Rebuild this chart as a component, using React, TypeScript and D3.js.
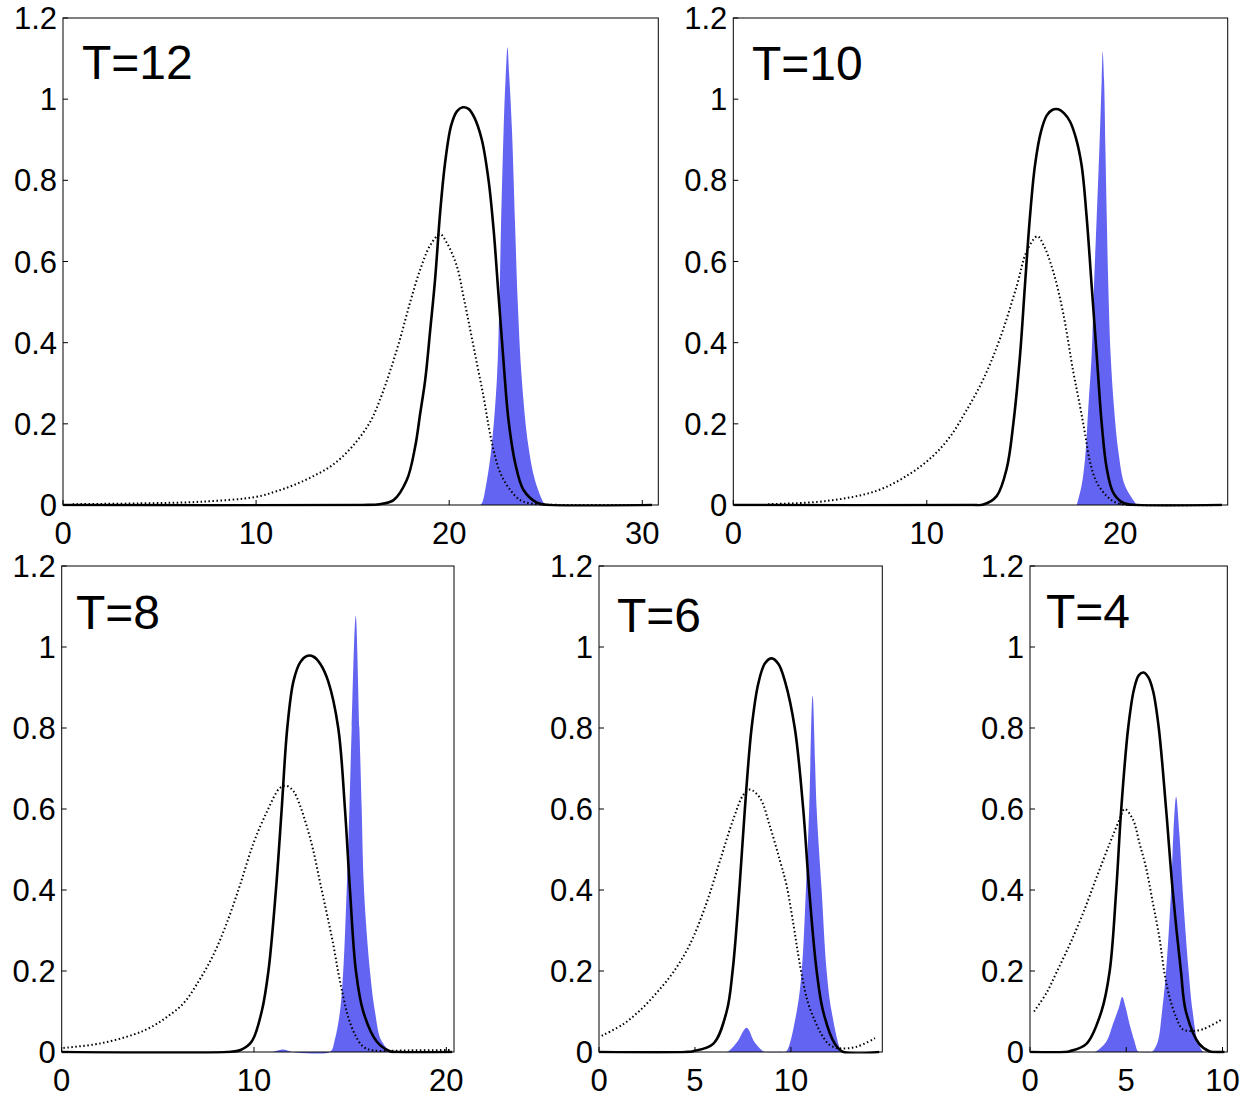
import * as d3 from 'd3'
import { useEffect, useRef } from 'react'

type Pt = [number, number]

const yTicks = [0, 0.2, 0.4, 0.6, 0.8, 1, 1.2]
const t12Ticks = [0, 10, 20, 30]
const t10Ticks = [0, 10, 20]
const t8Ticks = [0, 10, 20]
const t6Ticks = [0, 5, 10]
const t4Ticks = [0, 5, 10]

// T=12
const t12Solid: Pt[] = [
  [0, 0], [15.5, 0], [16.4, 0.002], [17.12, 0.012], [17.81, 0.062], [18.24, 0.144], [18.5, 0.226],
  [18.76, 0.309], [19.02, 0.432], [19.27, 0.556], [19.53, 0.72], [19.79, 0.844], [20.1, 0.935],
  [20.4, 0.97], [20.7, 0.98], [21.0, 0.976], [21.3, 0.955], [21.69, 0.9], [22.04, 0.8], [22.3, 0.679],
  [22.56, 0.514], [22.82, 0.35], [23.07, 0.21], [23.42, 0.103], [23.85, 0.037], [24.54, 0.006],
  [25.23, 0], [30.5, 0],
]
const t12Dotted: Pt[] = [
  [0.5, 0.002], [4, 0.004], [7.1, 0.008], [10, 0.02], [11, 0.033], [12, 0.05], [13, 0.072],
  [14, 0.1], [15, 0.145], [15.91, 0.205], [16.42, 0.26], [16.94, 0.33], [17.46, 0.41],
  [17.98, 0.5], [18.5, 0.58], [19.02, 0.64], [19.53, 0.667], [19.88, 0.646], [20.4, 0.588],
  [20.74, 0.514], [21.09, 0.432], [21.43, 0.35], [21.78, 0.267], [22.04, 0.195], [22.3, 0.135],
  [22.64, 0.08], [23.16, 0.037], [23.68, 0.012], [24.2, 0.004], [25, 0.001], [30.5, 0],
]
const t12Blue: Pt[] = [
  [21.6, 0], [21.7, 0.005], [21.95, 0.06], [22.2, 0.146], [22.47, 0.31], [22.6, 0.5], [22.68, 0.68],
  [22.82, 0.926], [22.92, 1.05], [23.02, 1.128], [23.12, 1.05], [23.25, 0.926], [23.42, 0.68],
  [23.55, 0.5], [23.76, 0.31], [24.1, 0.146], [24.45, 0.06], [24.9, 0.005], [25, 0],
]

// T=10
const t10Solid: Pt[] = [
  [0, 0], [12.3, 0], [12.92, 0.001], [13.61, 0.022], [14.13, 0.09], [14.47, 0.2], [14.82, 0.37],
  [15.07, 0.54], [15.33, 0.71], [15.59, 0.837], [15.9, 0.92], [16.2, 0.96], [16.5, 0.974],
  [16.8, 0.975], [17.1, 0.965], [17.4, 0.945], [17.7, 0.905], [18.0, 0.837], [18.26, 0.71],
  [18.52, 0.54], [18.78, 0.37], [19.04, 0.2], [19.3, 0.09], [19.64, 0.03], [20.16, 0.005],
  [20.85, 0], [25.25, 0],
]
const t10Dotted: Pt[] = [
  [1.8, 0.002], [4.83, 0.01], [7.41, 0.035], [9.13, 0.077], [10.3, 0.12], [11.2, 0.168],
  [12.06, 0.234], [12.92, 0.31], [13.78, 0.41], [14.65, 0.54], [15.16, 0.625], [15.71, 0.662],
  [16.02, 0.642], [16.54, 0.574], [17.05, 0.472], [17.57, 0.328], [17.92, 0.243], [18.18, 0.175],
  [18.43, 0.107], [18.78, 0.056], [19.3, 0.022], [19.81, 0.005], [20.6, 0], [25.25, 0],
]
const t10Blue: Pt[] = [
  [17.75, 0], [18.0, 0.048], [18.18, 0.115], [18.35, 0.243], [18.52, 0.37], [18.64, 0.54],
  [18.78, 0.71], [18.92, 0.88], [19.04, 1.05], [19.09, 1.117], [19.16, 1.05], [19.23, 0.88],
  [19.3, 0.71], [19.38, 0.54], [19.5, 0.37], [19.67, 0.243], [19.9, 0.132], [20.24, 0.048], [20.85, 0],
]

// T=8
const t8Solid: Pt[] = [
  [0, 0], [8.6, 0], [9.3, 0.005], [9.88, 0.026], [10.4, 0.1], [10.75, 0.2], [11.14, 0.4],
  [11.44, 0.6], [11.73, 0.8], [12.05, 0.915], [12.4, 0.962], [12.75, 0.978], [13.1, 0.976],
  [13.45, 0.958], [13.86, 0.915], [14.38, 0.8], [14.73, 0.6], [14.99, 0.4], [15.3, 0.2], [15.68, 0.1],
  [16.38, 0.026], [17.07, 0.002], [17.5, 0], [20.3, 0],
]
const t8Dotted: Pt[] = [
  [0.09, 0.01], [1.99, 0.021], [3.73, 0.043], [4.59, 0.06], [5.46, 0.086], [6.33, 0.12], [7.19, 0.18],
  [7.89, 0.24], [8.58, 0.318], [9.27, 0.412], [9.97, 0.515], [10.66, 0.592], [11.35, 0.652],
  [11.7, 0.657], [12.05, 0.644], [12.39, 0.609], [12.74, 0.558], [13.08, 0.498], [13.43, 0.42],
  [13.78, 0.343], [14.12, 0.266], [14.38, 0.197], [14.64, 0.137], [14.9, 0.086], [15.25, 0.043],
  [15.68, 0.013], [16.2, 0.004], [18, 0.004], [20.3, 0.005],
]
const t8Blue: Pt[] = [
  [11.0, 0], [11.5, 0.006], [12.0, 0], [13.95, 0], [14.2, 0.03], [14.47, 0.1], [14.64, 0.2],
  [14.82, 0.4], [14.96, 0.6], [15.08, 0.8], [15.29, 1.077], [15.48, 0.8], [15.6, 0.6], [15.72, 0.4],
  [16.03, 0.2], [16.29, 0.1], [16.6, 0.03], [17.07, 0],
]

// T=6
const t6Solid: Pt[] = [
  [0, 0], [4.5, 0], [4.91, 0.002], [5.95, 0.02], [6.65, 0.1], [6.96, 0.2], [7.31, 0.4], [7.6, 0.6],
  [7.95, 0.8], [8.3, 0.91], [8.65, 0.96], [9.0, 0.972], [9.35, 0.958], [9.69, 0.915], [10.2, 0.8],
  [10.64, 0.6], [10.95, 0.4], [11.34, 0.2], [11.68, 0.1], [12.29, 0.02], [12.73, 0], [14.6, 0],
]
const t6Dotted: Pt[] = [
  [0.14, 0.04], [1.27, 0.069], [2.14, 0.103], [3.0, 0.146], [3.87, 0.197], [4.74, 0.266],
  [5.61, 0.369], [6.3, 0.472], [7.0, 0.575], [7.52, 0.635], [7.86, 0.648], [8.39, 0.627],
  [8.9, 0.558], [9.43, 0.472], [9.77, 0.412], [10.12, 0.318], [10.38, 0.24], [10.64, 0.172],
  [10.9, 0.12], [11.25, 0.077], [11.6, 0.043], [12.03, 0.017], [12.55, 0.009], [13.42, 0.013],
  [14.38, 0.034],
]
const t6Blue: Pt[] = [
  [6.6, 0], [6.74, 0.002], [7.2, 0.025], [7.69, 0.06], [8.1, 0.025], [8.56, 0.002], [8.7, 0],
  [9.6, 0], [9.77, 0.002], [10.3, 0.1], [10.56, 0.2], [10.78, 0.4], [10.95, 0.6], [11.13, 0.88],
  [11.34, 0.6], [11.6, 0.4], [11.86, 0.2], [12.12, 0.1], [12.64, 0.002], [12.8, 0],
]

// T=4
const t4Solid: Pt[] = [
  [0, 0], [1.8, 0], [2.07, 0.002], [2.93, 0.02], [3.71, 0.1], [4.14, 0.2], [4.48, 0.4], [4.74, 0.6],
  [5.1, 0.8], [5.4, 0.895], [5.65, 0.93], [5.9, 0.937], [6.15, 0.925], [6.4, 0.89], [6.69, 0.8],
  [7.07, 0.6], [7.41, 0.4], [7.84, 0.2], [8.1, 0.1], [8.79, 0.02], [9.31, 0.002], [9.6, 0], [10.1, 0],
]
const t4Dotted: Pt[] = [
  [0.21, 0.1], [0.86, 0.146], [1.38, 0.197], [2.07, 0.266], [2.76, 0.343], [3.45, 0.43],
  [4.14, 0.515], [4.66, 0.575], [4.91, 0.6], [5.34, 0.575], [5.69, 0.515], [6.03, 0.455],
  [6.38, 0.369], [6.72, 0.283], [6.98, 0.197], [7.24, 0.137], [7.59, 0.086], [7.93, 0.056],
  [8.28, 0.052], [8.97, 0.056], [9.91, 0.079],
]
const t4Blue: Pt[] = [
  [3.3, 0], [3.45, 0.002], [3.97, 0.026], [4.31, 0.069], [4.62, 0.11], [4.79, 0.136], [4.97, 0.11],
  [5.17, 0.069], [5.43, 0.026], [5.6, 0.002], [5.7, 0], [6.3, 0], [6.38, 0.002], [6.64, 0.026],
  [6.86, 0.1], [7.07, 0.2], [7.33, 0.4], [7.45, 0.54], [7.59, 0.63], [7.76, 0.54], [7.93, 0.4],
  [8.24, 0.2], [8.45, 0.1], [8.71, 0.026], [8.97, 0.002], [9.1, 0],
]

const panels = [
  { label: 'T=12', xMax: 30.83, ticks: t12Ticks, solid: t12Solid, dotted: t12Dotted, blue: t12Blue },
  { label: 'T=10', xMax: 25.55, ticks: t10Ticks, solid: t10Solid, dotted: t10Dotted, blue: t10Blue },
  { label: 'T=8', xMax: 20.4, ticks: t8Ticks, solid: t8Solid, dotted: t8Dotted, blue: t8Blue },
  { label: 'T=6', xMax: 14.76, ticks: t6Ticks, solid: t6Solid, dotted: t6Dotted, blue: t6Blue },
  { label: 'T=4', xMax: 10.25, ticks: t4Ticks, solid: t4Solid, dotted: t4Dotted, blue: t4Blue },
]

// frame boxes in page pixels
const frames = [
  { left: 63, right: 658.3, top: 18, bottom: 505, labelX: 82, labelY: 79 },
  { left: 733.3, right: 1227.7, top: 18, bottom: 505, labelX: 752, labelY: 80 },
  { left: 61.7, right: 454, top: 566, bottom: 1052, labelX: 76, labelY: 629 },
  { left: 599, right: 882.3, top: 566, bottom: 1052, labelX: 617, labelY: 632 },
  { left: 1030, right: 1227.3, top: 566, bottom: 1052, labelX: 1046, labelY: 628 },
]

const FONT = '"Liberation Sans", Arial, sans-serif'
const BLUE = '#6464f2'

const App = () => {
  const ref = useRef<SVGSVGElement>(null)

  useEffect(() => {
    const svg = d3.select(ref.current)
    svg.selectAll('*').remove()

    const curve = d3.curveCatmullRom.alpha(0.5)

    panels.forEach((p, i) => {
      const f = frames[i]
      const x = d3.scaleLinear().domain([0, p.xMax]).range([f.left, f.right])
      const y = d3.scaleLinear().domain([0, 1.2]).range([f.bottom, f.top])

      const g = svg.append('g')
      const clipId = 'clip' + i
      g.append('clipPath')
        .attr('id', clipId)
        .append('rect')
        .attr('x', f.left)
        .attr('y', f.top)
        .attr('width', f.right - f.left)
        .attr('height', f.bottom - f.top + 1.5)

      const plot = g.append('g').attr('clip-path', `url(#${clipId})`)

      const area = d3
        .area<Pt>()
        .x((d) => x(d[0]))
        .y0(y(0))
        .y1((d) => y(d[1]))
        .curve(curve)

      const line = d3
        .line<Pt>()
        .x((d) => x(d[0]))
        .y((d) => y(d[1]))
        .curve(curve)

      plot.append('path').datum(p.blue).attr('d', area).attr('fill', BLUE).attr('stroke', 'none')

      plot
        .append('path')
        .datum(p.dotted)
        .attr('d', line)
        .attr('fill', 'none')
        .attr('stroke', '#000')
        .attr('stroke-width', 2)
        .attr('stroke-dasharray', '1.5,2.5')

      plot
        .append('path')
        .datum(p.solid)
        .attr('d', line)
        .attr('fill', 'none')
        .attr('stroke', '#000')
        .attr('stroke-width', 2.6)

      // box
      g.append('rect')
        .attr('x', f.left)
        .attr('y', f.top)
        .attr('width', f.right - f.left)
        .attr('height', f.bottom - f.top)
        .attr('fill', 'none')
        .attr('stroke', '#000')
        .attr('stroke-width', 1)

      // y ticks
      yTicks.forEach((t) => {
        g.append('line')
          .attr('x1', f.left)
          .attr('x2', f.left + 5)
          .attr('y1', y(t))
          .attr('y2', y(t))
          .attr('stroke', '#000')
        g.append('text')
          .attr('x', f.left - 6)
          .attr('y', y(t))
          .attr('dy', '0.36em')
          .attr('text-anchor', 'end')
          .attr('font-family', FONT)
          .attr('font-size', 31)
          .attr('fill', '#000')
          .text(d3.format('~g')(t))
      })

      // x ticks
      p.ticks.forEach((t) => {
        g.append('line')
          .attr('x1', x(t))
          .attr('x2', x(t))
          .attr('y1', f.bottom)
          .attr('y2', f.bottom - 5)
          .attr('stroke', '#000')
        g.append('text')
          .attr('x', x(t))
          .attr('y', f.bottom + 39)
          .attr('text-anchor', 'middle')
          .attr('font-family', FONT)
          .attr('font-size', 31)
          .attr('fill', '#000')
          .text(t)
      })

      g.append('text')
        .attr('x', f.labelX)
        .attr('y', f.labelY)
        .attr('font-family', FONT)
        .attr('font-size', 48)
        .attr('fill', '#000')
        .text(p.label)
    })
  }, [])

  return (
    <svg
      ref={ref}
      width={1248}
      height={1102}
      style={{ position: 'absolute', left: 0, top: 0, background: '#fff' }}
    />
  )
}

export default App
